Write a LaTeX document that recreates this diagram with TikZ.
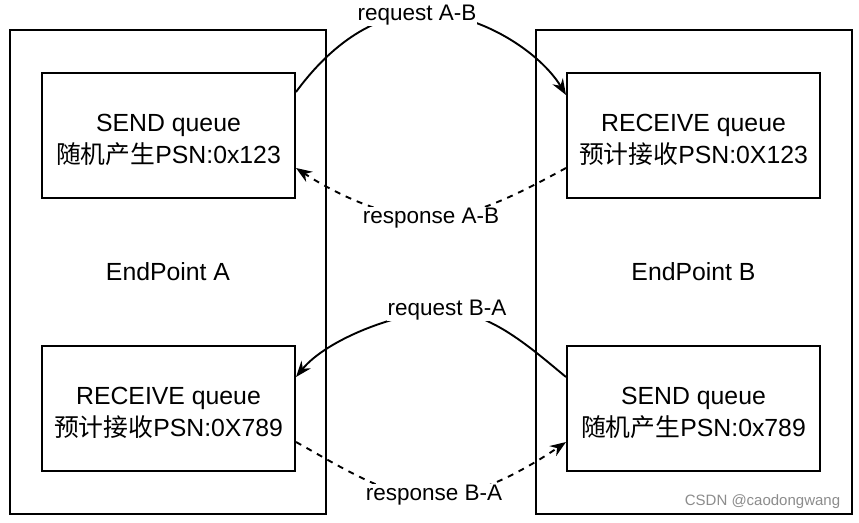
\documentclass[tikz,border=0pt]{standalone}
\usepackage{fontspec}
\setmainfont{Liberation Sans}
\newfontfamily\cjk{Noto Sans CJK SC}
\usetikzlibrary{arrows.meta}
\definecolor{wmgray}{RGB}{140,140,140}
\newcommand{\toppad}{\rule{0pt}{25.5pt}}
\tikzset{
  outerbox/.style={draw, line width=2pt, minimum width=316pt, minimum height=484pt, inner sep=0pt,
    font=\fontsize{24.8}{32}\selectfont},
  qbox/.style={draw, line width=2pt, minimum width=253pt, minimum height=125.5pt, inner sep=0pt,
    align=center, font=\fontsize{24.8}{32}\selectfont},
  reqline/.style={line width=1.9pt, -{Stealth[length=16pt,width=12pt]}},
  resline/.style={line width=1.9pt, dash pattern=on 6pt off 6pt, -{Stealth[length=16pt,width=12pt]}},
  elabel/.style={fill=white, inner sep=1pt, font=\fontsize{22.5}{27}\selectfont},
}
\begin{document}
\begin{tikzpicture}[x=1pt,y=-1pt]
\useasboundingbox[fill=white] (0,0) rectangle (859,522);
% outer endpoints
\node[outerbox] (epA) at (168,272) {EndPoint A};
\node[outerbox] (epB) at (693.5,272) {EndPoint B};
% queues
\node[qbox] (sendA) at (168.5,135.5) {\toppad SEND queue\\{\cjk 随机产生}PSN:0x123};
\node[qbox] (recvB) at (693.5,135.5) {\toppad RECEIVE queue\\{\cjk 预计接收}PSN:0X123};
\node[qbox] (recvA) at (168.5,408.5) {\toppad RECEIVE queue\\{\cjk 预计接收}PSN:0X789};
\node[qbox] (sendB) at (693.5,408.5) {\toppad SEND queue\\{\cjk 随机产生}PSN:0x789};
% label anchor points on the curves
\coordinate (mAB) at (425,13);
\coordinate (mrAB) at (430,218);
\coordinate (mBA) at (446,311);
\coordinate (mrBA) at (432,498);
% request A-B
\draw[reqline] ([yshift=43.5pt]sendA.east) .. controls (326,51) and (370,13) .. (mAB)
  .. controls (480,13) and (540,52) .. ([yshift=40.5pt]recvB.west);
% response A-B
\draw[resline] ([yshift=-32.5pt]recvB.west) .. controls (527,189) and (475,218) .. (mrAB)
  .. controls (385,218) and (334,193) .. ([yshift=-32.5pt]sendA.east);
% request B-A
\draw[reqline] ([yshift=31.5pt]sendB.west) .. controls (532,349) and (490,311) .. (mBA)
  .. controls (400,311) and (327,339) .. ([yshift=31.5pt]recvA.east);
% response B-A
\draw[resline] ([yshift=-33.5pt]recvA.east) .. controls (336,464) and (388,498) .. (mrBA)
  .. controls (476,498) and (528,468) .. ([yshift=-33.5pt]sendB.west);
% edge labels
\node[elabel] (lAB) at (417,15) {request A-B};
\node[elabel] (lrAB) at (431,218) {response A-B};
\node[elabel] (lBA) at (447,310) {request B-A};
\node[elabel] (lrBA) at (434,495) {response B-A};
% watermark
\node[text=wmgray, font=\fontsize{15}{18}\selectfont, inner sep=0pt] (wm) at (762.5,502) {CSDN @caodongwang};
\end{tikzpicture}
\end{document}
